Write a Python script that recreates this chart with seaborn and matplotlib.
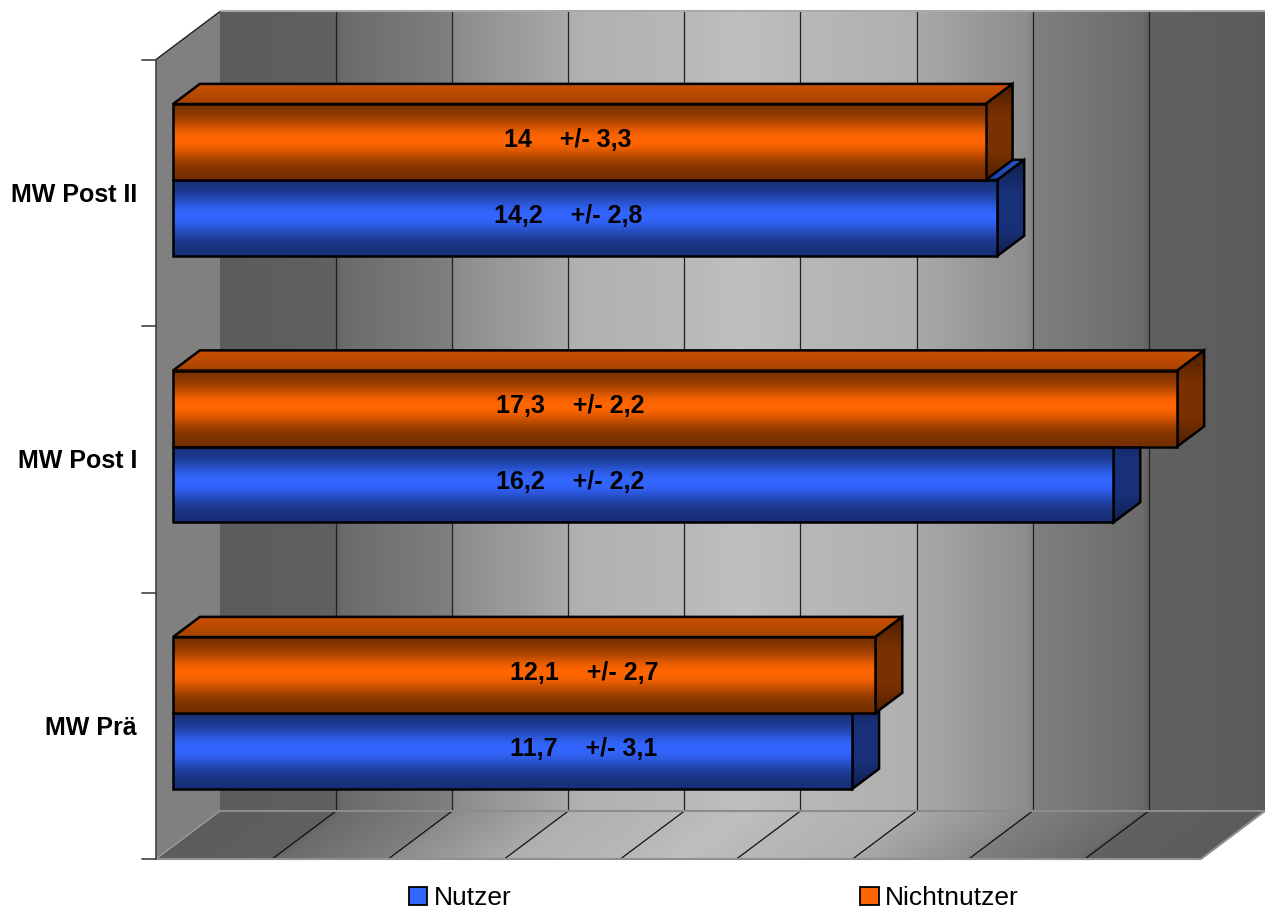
import numpy as np
import pandas as pd
import matplotlib
matplotlib.use("Agg")
import matplotlib.pyplot as plt
from matplotlib.patches import Polygon, Rectangle
import seaborn as sns

# ---- data -------------------------------------------------------------
categories = ["MW Post II", "MW Post I", "MW Prä"]
mean_nutzer = [14.2, 16.2, 11.7]
sd_nutzer = [2.8, 2.2, 3.1]
mean_nichtnutzer = [14.0, 17.3, 12.1]
sd_nichtnutzer = [3.3, 2.2, 2.7]
grid_values = [0, 2, 4, 6, 8, 10, 12, 14, 16, 18]

df = pd.DataFrame({
    "Zeitpunkt": categories * 2,
    "Gruppe": ["Nutzer"] * 3 + ["Nichtnutzer"] * 3,
    "Mittelwert": mean_nutzer + mean_nichtnutzer,
    "SD": sd_nutzer + sd_nichtnutzer,
})

# ---- style ------------------------------------------------------------
sns.set_theme(style="white")
plt.rcParams["font.family"] = ["Liberation Sans", "DejaVu Sans"]
plt.rcParams["text.color"] = "black"

BLUE = np.array([0x33, 0x66, 0xFF]) / 255
ORANGE = np.array([0xFF, 0x66, 0x00]) / 255
palette = {"Nutzer": "#3366FF", "Nichtnutzer": "#FF6600"}

W, H = 1267, 910
fig = plt.figure(figsize=(W / 100, H / 100), dpi=100)
ax = fig.add_axes([0, 0, 1, 1])

# screen scale of the bar front plane
PX_PER_UNIT = 58.05
PX_PER_CAT = 266.5
X0_PX, Y0_PX = 173, 180
XLIM = (-X0_PX / PX_PER_UNIT, (W - X0_PX) / PX_PER_UNIT)
YLIM = ((H - Y0_PX) / PX_PER_CAT, -Y0_PX / PX_PER_CAT)

# depth of the 3-D box in data units
DX = 64 / PX_PER_UNIT
DY = -48 / PX_PER_CAT
D_BAR = 17 / 64          # depth of the bar front faces
BAR_DEPTH = 0.42         # bar thickness as share of the box depth
C_TOP, C_BOT = -0.5, 2.5
VMAX = grid_values[-1]


def P(v, c, d):
    """Point of the box at value v, category position c and depth d (0 front, 1 back)."""
    return (v + (d - D_BAR) * DX, c + (d - D_BAR) * DY)


def grad_fill(verts, rgb_func, zorder, n=(90, 260)):
    verts = np.asarray(verts, dtype=float)
    x0, y0 = verts.min(axis=0)
    x1, y1 = verts.max(axis=0)
    X, Y = np.meshgrid(np.linspace(x0, x1, n[1]), np.linspace(y0, y1, n[0]))
    img = np.clip(rgb_func(X, Y), 0, 1)
    poly = Polygon(verts, closed=True, facecolor="none", edgecolor="none")
    ax.add_patch(poly)
    im = ax.imshow(img, extent=(x0, x1, y1, y0), origin="upper", aspect="auto",
                   interpolation="bilinear", zorder=zorder)
    im.set_clip_path(poly)
    return poly


def wall_shade(t):
    t = np.clip(np.minimum(t, 1 - t), 0, 0.5)
    kt = [0, 0.11, 0.115, 0.22, 0.225, 0.33, 0.335, 0.44, 0.5]
    kv = [0.36, 0.38, 0.42, 0.50, 0.55, 0.66, 0.69, 0.72, 0.75]
    return np.interp(t, kt, kv)


def gray(g):
    return np.dstack([g, g, g])


# ---- bars (front faces come from seaborn) -------------------------------
sns.barplot(data=df, x="Mittelwert", y="Zeitpunkt", hue="Gruppe",
            order=categories, hue_order=["Nichtnutzer", "Nutzer"],
            palette=palette, width=0.57, orient="h", errorbar=None,
            saturation=1, legend=False, ax=ax,
            edgecolor="black", linewidth=1.8)
bars = list(ax.patches)

# ---- walls ------------------------------------------------------------
back = [P(0, C_TOP, 1), P(VMAX, C_TOP, 1), P(VMAX, C_BOT, 1), P(0, C_BOT, 1)]
grad_fill(back, lambda X, Y: gray(wall_shade((X - (1 - D_BAR) * DX) / VMAX)), 0.5)

floor = [P(0, C_BOT, 0), P(VMAX, C_BOT, 0), P(VMAX, C_BOT, 1), P(0, C_BOT, 1)]


def floor_rgb(X, Y):
    d = (Y - C_BOT) / DY + D_BAR
    v = X - (d - D_BAR) * DX
    return gray(wall_shade(v / VMAX))


grad_fill(floor, floor_rgb, 0.5)

side = [P(0, C_TOP, 0), P(0, C_TOP, 1), P(0, C_BOT, 1), P(0, C_BOT, 0)]
ax.add_patch(Polygon(side, closed=True, facecolor="#808080", edgecolor="none", zorder=0.8))

for gv in grid_values[1:-1]:
    a, b = P(gv, C_TOP, 1), P(gv, C_BOT, 1)
    ax.plot([a[0], b[0]], [a[1], b[1]], color="#202020", lw=0.9, zorder=1.0)
    a, b = P(gv, C_BOT, 1), P(gv, C_BOT, 0)
    ax.plot([a[0], b[0]], [a[1], b[1]], color="#101010", lw=0.9, zorder=1.0)

# box edges
for (p, q, col, lw) in [
    (P(0, C_TOP, 1), P(VMAX, C_TOP, 1), "#a8a8a8", 1.5),
    (P(0, C_BOT, 1), P(VMAX, C_BOT, 1), "#8c8c8c", 1.5),
    (P(0, C_BOT, 0), P(VMAX, C_BOT, 0), "#909090", 1.5),
    (P(VMAX, C_BOT, 0), P(VMAX, C_BOT, 1), "#909090", 1.5),
    (P(0, C_TOP, 0), P(0, C_TOP, 1), "#202020", 1.0),
    (P(0, C_BOT, 0), P(0, C_BOT, 1), "#9a9a9a", 1.0),
]:
    ax.plot([p[0], q[0]], [p[1], q[1]], color=col, lw=lw, zorder=1.1,
            solid_capstyle="butt")

# front value axis with category ticks
fx, _ = P(0, 0, 0)
ax.plot([fx, fx], [P(0, C_TOP, 0)[1], P(0, C_BOT, 0)[1]], color="#404040", lw=1.2, zorder=1.2)
for c in np.arange(C_TOP, C_BOT + 0.01, 1.0):
    y = P(0, c, 0)[1]
    ax.plot([fx - 14 / PX_PER_UNIT, fx], [y, y], color="#404040", lw=1.2, zorder=1.2)

# ---- 3-D bar faces ------------------------------------------------------
bdx, bdy = BAR_DEPTH * DX, BAR_DEPTH * DY


def front_factor(t):
    return 0.45 + 0.55 * np.exp(-((t - 0.47) / 0.27) ** 2)


def side_factor(t):
    return np.interp(t, [0, 0.35, 0.7, 1.0], [0.30, 0.48, 0.48, 0.32])


order = sorted(bars, key=lambda p: -p.get_y())
for k, patch in enumerate(order):
    v = patch.get_width()
    c0 = patch.get_y()
    c1 = c0 + patch.get_height()
    fc = np.array(patch.get_facecolor()[:3])
    base = BLUE if np.abs(fc - BLUE).sum() < np.abs(fc - ORANGE).sum() else ORANGE
    z = 3 + k * 0.1

    top = [(0, c0), (v, c0), (v + bdx, c0 + bdy), (bdx, c0 + bdy)]
    grad_fill(top, lambda X, Y, b=base, c0=c0:
              b[None, None, :] * (0.80 - 0.15 * ((Y - (c0 + bdy)) / (-bdy)))[..., None], z)
    ax.add_patch(Polygon(top, closed=True, facecolor="none", edgecolor="black",
                         lw=1.8, zorder=z + 0.01, joinstyle="miter"))

    sidef = [(v, c0), (v + bdx, c0 + bdy), (v + bdx, c1 + bdy), (v, c1)]
    grad_fill(sidef, lambda X, Y, b=base, c0=c0, c1=c1:
              b[None, None, :] * side_factor(np.clip((Y - (c0 + bdy)) / (c1 - c0 - bdy), 0, 1))[..., None],
              z + 0.02)
    ax.add_patch(Polygon(sidef, closed=True, facecolor="none", edgecolor="black",
                         lw=1.8, zorder=z + 0.03, joinstyle="miter"))

    ax.imshow(base[None, None, :] * front_factor(np.linspace(0, 1, 120))[:, None, None],
              extent=(0, v, c1, c0), origin="upper", aspect="auto",
              interpolation="bilinear", zorder=z + 0.04, clip_path=patch)
    patch.set_facecolor("none")
    patch.set_zorder(z + 0.05)
    patch.set_joinstyle("miter")

# ---- value labels -------------------------------------------------------
def fmt(x):
    return ("%g" % x).replace(".", ",")


label_x = [6.80, 6.85, 7.08]
for i, cat in enumerate(categories):
    for grp, means, sds in [("Nichtnutzer", mean_nichtnutzer, sd_nichtnutzer),
                            ("Nutzer", mean_nutzer, sd_nutzer)]:
        offset = -0.57 / 4 if grp == "Nichtnutzer" else 0.57 / 4
        ax.text(label_x[i], i + offset - 0.008, f"{fmt(means[i])}    +/- {fmt(sds[i])}",
                ha="center", va="center", fontsize=18, fontweight="bold",
                color="black", zorder=20)

# ---- category labels ----------------------------------------------------
for i, cat in enumerate(categories):
    x, y = P(0, i, 0)
    ax.text(x - 19 / PX_PER_UNIT, y + 0.008, cat, ha="right", va="center",
            fontsize=18, fontweight="bold", color="black", zorder=20)

# ---- legend -------------------------------------------------------------
handles = [Rectangle((0, 0), 1, 1, facecolor=palette["Nutzer"], edgecolor="black", lw=1.3),
           Rectangle((0, 0), 1, 1, facecolor=palette["Nichtnutzer"], edgecolor="black", lw=1.3)]
fig.legend(handles, ["Nutzer", "Nichtnutzer"], ncol=2, loc="center",
           bbox_to_anchor=(714 / W, 1 - 898 / H), frameon=False, fontsize=19,
           handlelength=0.7, handleheight=0.7, handletextpad=0.25,
           columnspacing=13.2, borderpad=0, labelcolor="black")

ax.set_xlim(XLIM)
ax.set_ylim(YLIM)
ax.axis("off")
fig.savefig("out.png", dpi=100, facecolor="white")
